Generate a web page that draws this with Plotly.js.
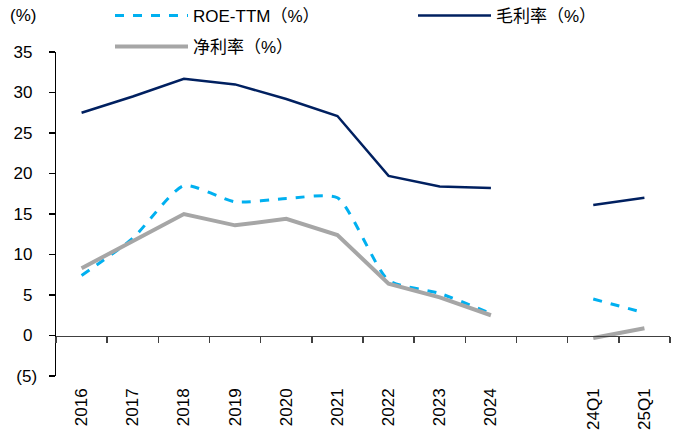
<!DOCTYPE html>
<html>
<head>
<meta charset="utf-8">
<script src="https://cdn.plot.ly/plotly-3.0.1.min.js"></script>
<style>body{margin:0;padding:0;background:#fff}#chart{width:683px;height:445px}</style>
</head>
<body>
<div id="chart"></div>
<script>
const categories = ["2016","2017","2018","2019","2020","2021","2022","2023","2024"," ","24Q1","25Q1"];
const tickLabels = ["2016","2017","2018","2019","2020","2021","2022","2023","2024","","24Q1","25Q1"];
const roeTTM = [7.4, 12.0, 18.5, 16.5, 16.9, 17.0, 6.8, 5.2, 2.7, null, 4.5, 2.8];
const grossMargin = [27.5, 29.5, 31.7, 31.0, 29.2, 27.1, 19.7, 18.4, 18.2, null, 16.1, 17.0];
const netMargin = [8.3, 11.7, 15.0, 13.6, 14.4, 12.4, 6.4, 4.7, 2.5, null, -0.3, 0.9];
const yTickVals = [-5, 0, 5, 10, 15, 20, 25, 30, 35];
const yTickText = ["(5)", "0\u00a0", "5\u00a0", "10\u00a0", "15\u00a0", "20\u00a0", "25\u00a0", "30\u00a0", "35\u00a0"];

const FONT = "Liberation Sans, Arial, 'Noto Sans CJK SC', sans-serif";

const traces = [
  {x: categories, y: roeTTM, name: "ROE-TTM（%）", type: "scatter", mode: "lines",
   line: {color: "#00B0F0", width: 3, dash: "dash", shape: "spline", smoothing: 0.6},
   legend: "legend", connectgaps: false},
  {x: categories, y: grossMargin, name: "毛利率（%）", type: "scatter", mode: "lines",
   line: {color: "#002060", width: 2.5}, legend: "legend2", connectgaps: false},
  {x: categories, y: netMargin, name: "净利率（%）", type: "scatter", mode: "lines",
   line: {color: "#A6A6A6", width: 4}, legend: "legend3", connectgaps: false},
  {x: categories, y: categories.map(() => null), xaxis: "x2", yaxis: "y", type: "scatter",
   mode: "lines", showlegend: false, hoverinfo: "skip"}
];

const legendBase = {
  orientation: "h", xref: "container", yref: "container", xanchor: "left", yanchor: "middle",
  font: {size: 17}, bgcolor: "rgba(0,0,0,0)", itemwidth: 73
};

const layout = {
  width: 683, height: 445,
  margin: {l: 56, r: 13, t: 52, b: 69, autoexpand: false},
  paper_bgcolor: "#fff", plot_bgcolor: "#fff",
  font: {family: FONT, size: 17, color: "#000"},
  showlegend: true,
  xaxis: {
    type: "category", categoryorder: "array", categoryarray: categories,
    tickvals: categories, ticktext: tickLabels, range: [-0.5, 11.5],
    tickangle: -90, ticks: "", showline: false, showgrid: false, zeroline: false,
    ticklabelstandoff: 8, tickfont: {size: 17}, automargin: false
  },
  xaxis2: {
    type: "category", categoryorder: "array", categoryarray: categories,
    range: [-0.5, 11.5], overlaying: "x", anchor: "free", position: 0.125,
    showline: true, linecolor: "#404040", linewidth: 1.5,
    ticks: "outside", tickson: "boundaries", ticklen: 6, tickcolor: "#404040", tickwidth: 1.5,
    showticklabels: false, showgrid: false, zeroline: false, automargin: false
  },
  yaxis: {
    range: [-5, 35], tickvals: yTickVals, ticktext: yTickText,
    showline: true, linecolor: "#000", linewidth: 1.5,
    ticks: "outside", ticklen: 6, tickcolor: "#000", tickwidth: 1.5,
    showgrid: false, zeroline: false, tickfont: {size: 17}, ticklabelstandoff: 8, automargin: false
  },
  legend: Object.assign({}, legendBase, {x: 110/683, y: 1 - 16/445}),
  legend2: Object.assign({}, legendBase, {x: 413/683, y: 1 - 16/445}),
  legend3: Object.assign({}, legendBase, {x: 110/683, y: 1 - 47/445}),
  annotations: [
    {text: "(%)", xref: "paper", yref: "paper", x: (8 - 56)/614, y: (376 - 16)/324,
     xanchor: "left", yanchor: "middle", showarrow: false, font: {size: 17}}
  ]
};

Plotly.newPlot("chart", traces, layout, {displayModeBar: false, staticPlot: true});
</script>
</body>
</html>
